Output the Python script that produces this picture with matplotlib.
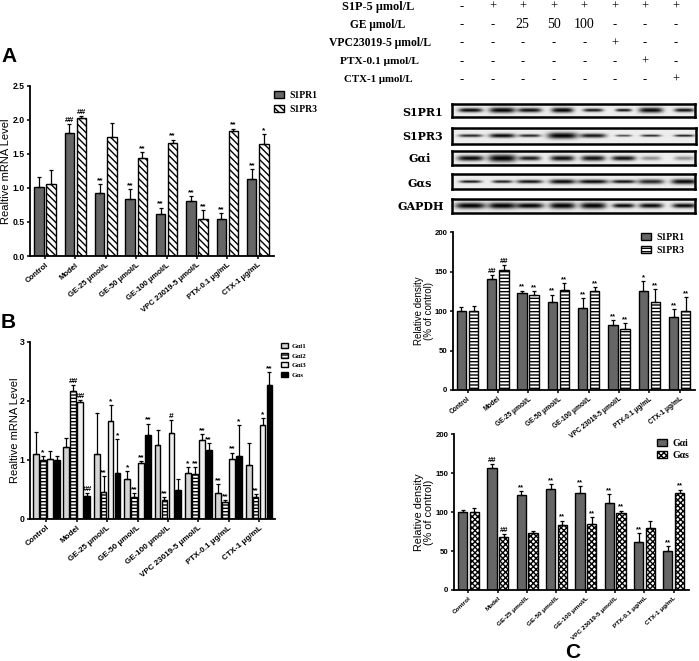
import matplotlib
matplotlib.use('Agg')
import matplotlib.pyplot as plt
from matplotlib.patches import Patch
import numpy as np

W, H = 699, 661
plt.rcParams['font.family'] = ['Liberation Sans', 'DejaVu Sans']
plt.rcParams['font.weight'] = 'bold'
plt.rcParams['hatch.linewidth'] = 1.0

groups = ['Control', 'Model', 'GE-25 μmol/L', 'GE-50 μmol/L', 'GE-100 μmol/L',
          'VPC 23019-5 μmol/L', 'PTX-0.1 μg/mL', 'CTX-1 μg/mL']

# panel A
a_r1 = [1.01, 1.81, 0.92, 0.83, 0.62, 0.81, 0.55, 1.13]
a_r1_top = [1.16, 1.94, 1.06, 0.98, 0.71, 0.88, 0.63, 1.27]
a_r1_sig = ['', '##', '**', '**', '**', '**', '**', '**']
a_r3 = [1.05, 2.03, 1.74, 1.44, 1.66, 0.54, 1.83, 1.65]
a_r3_top = [1.26, 2.05, 1.95, 1.53, 1.71, 0.67, 1.87, 1.79]
a_r3_sig = ['', '##', '', '**', '**', '**', '**', '*']

# panel B
b_i1 = [1.10, 1.21, 1.10, 0.68, 1.25, 0.78, 0.43, 0.91]
b_i1_top = [1.47, 1.36, 1.79, 0.81, 1.51, 0.88, 0.58, 1.28]
b_i1_sig = ['', '', '', '*', '', '*', '**', '']
b_i2 = [1.00, 2.17, 0.46, 0.36, 0.31, 0.75, 0.28, 0.37]
b_i2_top = [1.06, 2.27, 0.72, 0.44, 0.37, 0.87, 0.32, 0.42]
b_i2_sig = ['*', '##', '**', '**', '**', '**', '**', '**']
b_i3 = [1.01, 1.97, 1.66, 0.95, 1.46, 1.34, 1.02, 1.58]
b_i3_top = [1.14, 2.02, 1.93, 0.98, 1.67, 1.43, 1.12, 1.70]
b_i3_sig = ['', '##', '*', '**', '#', '**', '**', '*']
b_s = [1.00, 0.38, 0.78, 1.42, 0.48, 1.17, 1.06, 2.26]
b_s_top = [1.07, 0.43, 1.35, 1.61, 0.68, 1.28, 1.59, 2.48]
b_s_sig = ['', '##', '*', '**', '', '**', '*', '**']

# panel C, receptors
c_r1 = [100, 141, 123, 111, 104, 82, 125, 92]
c_r1_top = [105, 146, 126, 121, 117, 89, 138, 103]
c_r1_sig = ['', '##', '**', '**', '**', '**', '*', '**']
c_r3 = [100, 152, 120, 127, 126, 77, 111, 100]
c_r3_top = [106, 159, 125, 136, 130, 85, 128, 118]
c_r3_sig = ['', '##', '**', '**', '**', '**', '**', '**']

# panel C, G proteins
c_i = [100, 157, 122, 130, 124, 112, 62, 50]
c_i_top = [103, 162, 127, 136, 133, 123, 73, 56]
c_i_sig = ['', '##', '**', '**', '**', '**', '**', '**']
c_s = [100, 68, 73, 84, 85, 99, 80, 124]
c_s_top = [105, 72, 76, 89, 94, 102, 88, 129]
c_s_sig = ['', '##', '', '**', '**', '**', '', '**']

# treatment table
table_labels = ['S1P-5 μmol/L', 'GE μmol/L', 'VPC23019-5 μmol/L', 'PTX-0.1 μmol/L', 'CTX-1 μmol/L']
table_rows = [['-', '+', '+', '+', '+', '+', '+', '+'],
              ['-', '-', '25', '50', '100', '-', '-', '-'],
              ['-', '-', '-', '-', '-', '+', '-', '-'],
              ['-', '-', '-', '-', '-', '-', '+', '-'],
              ['-', '-', '-', '-', '-', '-', '-', '+']]

# blots: band darkness, half width and thickness per lane
blot_names = ['S1PR1', 'S1PR3', 'Gαi', 'Gαs', 'GAPDH']
blot_dark = [[0.98, 1.0, 0.95, 1.0, 0.92, 0.95, 0.98, 0.95],
             [0.85, 0.98, 0.85, 1.0, 0.92, 0.7, 0.85, 0.9],
             [0.98, 1.0, 0.9, 0.95, 0.95, 0.95, 0.4, 0.4],
             [0.95, 0.9, 0.95, 0.98, 0.98, 0.95, 0.85, 0.98],
             [1.0, 1.0, 1.0, 1.0, 1.0, 0.98, 0.98, 0.98]]
blot_wide = [[12, 13, 12, 11, 10, 8, 12, 10],
             [12, 13, 11, 15, 13, 8, 10, 10],
             [13, 14, 11, 12, 12, 12, 10, 10],
             [11, 10, 13, 13, 15, 12, 13, 13],
             [15, 14, 14, 13, 13, 11, 12, 12]]
blot_thick = [[2, 2.6, 2.1, 2.4, 1.6, 1.4, 2.5, 1.8],
              [1.4, 2, 1.4, 3, 2, 1, 1.1, 1.1],
              [2.6, 3.6, 2.2, 2.6, 2.6, 2.3, 2, 2],
              [1.3, 1.4, 1.7, 2.2, 2, 1.7, 2.3, 2.5],
              [2.9, 3, 2.6, 3, 3, 2.1, 2.3, 2.2]]


def px_axes(fig, left, top, right, bottom):
    return fig.add_axes([left / W, 1 - bottom / H, (right - left) / W, (bottom - top) / H])


def bar_panel(fig, box, c0, period, width, offsets, series, yticks, ticklabels,
              ylabel, ylabel_px, tick_fs, rot=40, sig_fs=6, label_fs=8, ytick_fs=6.2):
    left, top, right, bottom = box
    ax = px_axes(fig, left, top, right, bottom)
    ax.patch.set_alpha(0)
    x = np.arange(len(groups))
    for off, s in zip(offsets, series):
        val, tops, sig = s['val'], s['top'], s['sig']
        ax.bar(x + off, val, width, facecolor=s['color'], edgecolor='black',
               linewidth=1.0, hatch=s.get('hatch'))
        err = np.array(tops) - np.array(val)
        ax.errorbar(x + off, val, yerr=[np.zeros(len(err)), err], fmt='none',
                    ecolor='black', elinewidth=0.9, capsize=1.4, capthick=0.9)
        for xi, t, lab in zip(x + off, tops, sig):
            if lab:
                ax.text(xi, t, lab, ha='center', va='bottom', fontsize=sig_fs, linespacing=0.8)
    ax.set_xlim((left - c0) / period, (right - c0) / period)
    ax.set_ylim(0, yticks[-1])
    ax.set_yticks(yticks)
    ax.set_yticklabels(ticklabels, fontsize=ytick_fs)
    ax.set_xticks(x)
    ax.set_xticklabels(groups, fontsize=tick_fs, rotation=rot, ha='right', rotation_mode='anchor')
    ax.set_ylabel(ylabel, fontsize=label_fs, va='center', ha='center', linespacing=1.0)
    ax.yaxis.set_label_coords((ylabel_px - left) / (right - left), 0.5)
    ax.spines['top'].set_visible(False)
    ax.spines['right'].set_visible(False)
    ax.spines['left'].set_linewidth(1.3)
    ax.spines['bottom'].set_linewidth(1.3)
    ax.tick_params(axis='both', length=2.5, width=1.1, pad=1.5)
    return ax


def add_legend(fig, series, labels, xpx, ypx, fs, spacing=0.5, hl=1.0, hh=0.6):
    handles = [Patch(facecolor=s['color'], edgecolor='black', hatch=s.get('hatch'), linewidth=1.0)
               for s in series]
    fig.legend(handles, labels, loc='upper left', bbox_to_anchor=(xpx / W, 1 - ypx / H),
               frameon=False, borderaxespad=0, borderpad=0, handlelength=hl, handleheight=hh,
               labelspacing=spacing, handletextpad=0.6,
               prop={'family': ['Liberation Serif', 'DejaVu Serif'], 'weight': 'bold', 'size': fs})


fig = plt.figure(figsize=(W / 100, H / 100), dpi=100)

# panel A
a_series = [dict(val=a_r1, top=a_r1_top, sig=a_r1_sig, color='#666666'),
            dict(val=a_r3, top=a_r3_top, sig=a_r3_sig, color='white', hatch='\\\\\\\\\\')]
bar_panel(fig, (30, 85.7, 274, 256), 45, 30.4, 0.31, [-0.2, 0.2], a_series,
          [0, 0.5, 1.0, 1.5, 2.0, 2.5], ['0.0', '0.5', '1.0', '1.5', '2.0', '2.5'],
          'Realtive mRNA Level', 6, 5.6)
add_legend(fig, a_series, ['S1PR1', 'S1PR3'], 274, 91, 7, spacing=0.5)

# panel B
b_series = [dict(val=b_i1, top=b_i1_top, sig=b_i1_sig, color='#d4d4d4'),
            dict(val=b_i2, top=b_i2_top, sig=b_i2_sig, color='white', hatch='-----'),
            dict(val=b_i3, top=b_i3_top, sig=b_i3_sig, color='#efefef'),
            dict(val=b_s, top=b_s_top, sig=b_s_sig, color='black')]
bar_panel(fig, (30, 341.7, 275, 518.7), 46.3, 30.4, 0.19, [-0.34, -0.115, 0.115, 0.34], b_series,
          [0, 1, 2, 3], ['0', '1', '2', '3'], 'Realtive mRNA Level', 15, 5.8)
add_legend(fig, b_series, ['Gαi1', 'Gαi2', 'Gαi3', 'Gαs'], 281, 343, 5, spacing=0.55, hh=0.7)

# panel C, receptors
c1_series = [dict(val=c_r1, top=c_r1_top, sig=c_r1_sig, color='#666666'),
             dict(val=c_r3, top=c_r3_top, sig=c_r3_sig, color='white', hatch='-----')]
bar_panel(fig, (452.7, 232.3, 695, 390), 467.5, 30.3, 0.31, [-0.2, 0.2], c1_series,
          [0, 50, 100, 150, 200], ['0', '50', '100', '150', '200'],
          'Relative density\n(% of control)', 424, 4.8, rot=38, sig_fs=5.5, label_fs=7, ytick_fs=5.6)
add_legend(fig, c1_series, ['S1PR1', 'S1PR3'], 641, 233, 7, spacing=0.4)

# panel C, G proteins
c2_series = [dict(val=c_i, top=c_i_top, sig=c_i_sig, color='#666666'),
             dict(val=c_s, top=c_s_top, sig=c_s_sig, color='white', hatch='xxxxxx')]
bar_panel(fig, (454, 434.3, 689, 590), 468.5, 29.33, 0.31, [-0.2, 0.2], c2_series,
          [0, 50, 100, 150, 200], ['0', '50', '100', '150', '200'],
          'Relative density\n(% of control)', 424, 4.6, rot=43, sig_fs=5.5, label_fs=7.8, ytick_fs=5.6)
add_legend(fig, c2_series, ['Gαi', 'Gαs'], 657, 439, 7, spacing=0.3)

# blots
blot_boxes = [(451.7, 104, 695, 117.3), (451.7, 127.7, 696, 144), (451.7, 151, 695, 165),
              (451.7, 174.3, 695, 189), (451.7, 199, 695, 213.3)]
blot_label_x = [423, 423, 420, 420, 421]
blot_label_y = [113, 136, 158, 183, 207]
lane_px = [470, 501.7, 529, 561.7, 592.3, 622.7, 650, 683.3]
for name, box, lx, ly, dark, wide, thick in zip(blot_names, blot_boxes, blot_label_x, blot_label_y,
                                                blot_dark, blot_wide, blot_thick):
    ax = px_axes(fig, *box)
    xx, yy = np.meshgrid(np.arange(box[0], box[2], 0.5), np.arange(box[1], box[3], 0.5))
    yc = (box[1] + box[3]) / 2
    img = np.full(xx.shape, 0.93)
    for lane, d, w, t in zip(lane_px, dark, wide, thick):
        band = d * np.exp(-((xx - lane) / w) ** 4 - ((yy - yc) / t) ** 2)
        img = img * (1 - band)
    ax.imshow(img, cmap='gray', vmin=0, vmax=1, aspect='auto', interpolation='bilinear')
    ax.set_xticks([])
    ax.set_yticks([])
    for sp in ax.spines.values():
        sp.set_linewidth(1.8)
    fig.text(lx / W, 1 - ly / H, name, ha='center', va='center', fontsize=8,
             family=['DejaVu Serif'])

# treatment table
col_px = [461.7, 492.7, 522.7, 554, 584.3, 615, 644.7, 676]
row_px = [6.7, 25, 43.3, 61.7, 80]
label_px = [378, 378, 380, 380, 378]
label_fs = [8.8, 8.3, 8.4, 8.2, 7.8]
for lab, lx, ry, fs, row in zip(table_labels, label_px, row_px, label_fs, table_rows):
    fig.text(lx / W, 1 - ry / H, lab, ha='center', va='center', fontsize=fs,
             family=['Liberation Serif', 'DejaVu Serif'])
    for cx, mark in zip(col_px, row):
        fig.text(cx / W, 1 - ry / H, mark, ha='center', va='center',
                 fontsize=10 if mark.isdigit() else 9,
                 family=['Liberation Serif', 'DejaVu Serif'], weight='normal')

# panel letters
for letter, lx, ly in [('A', 9, 57), ('B', 8, 322), ('C', 573, 652)]:
    fig.text(lx / W, 1 - ly / H, letter, ha='center', va='center', fontsize=15)

fig.savefig('out.png', dpi=100)
